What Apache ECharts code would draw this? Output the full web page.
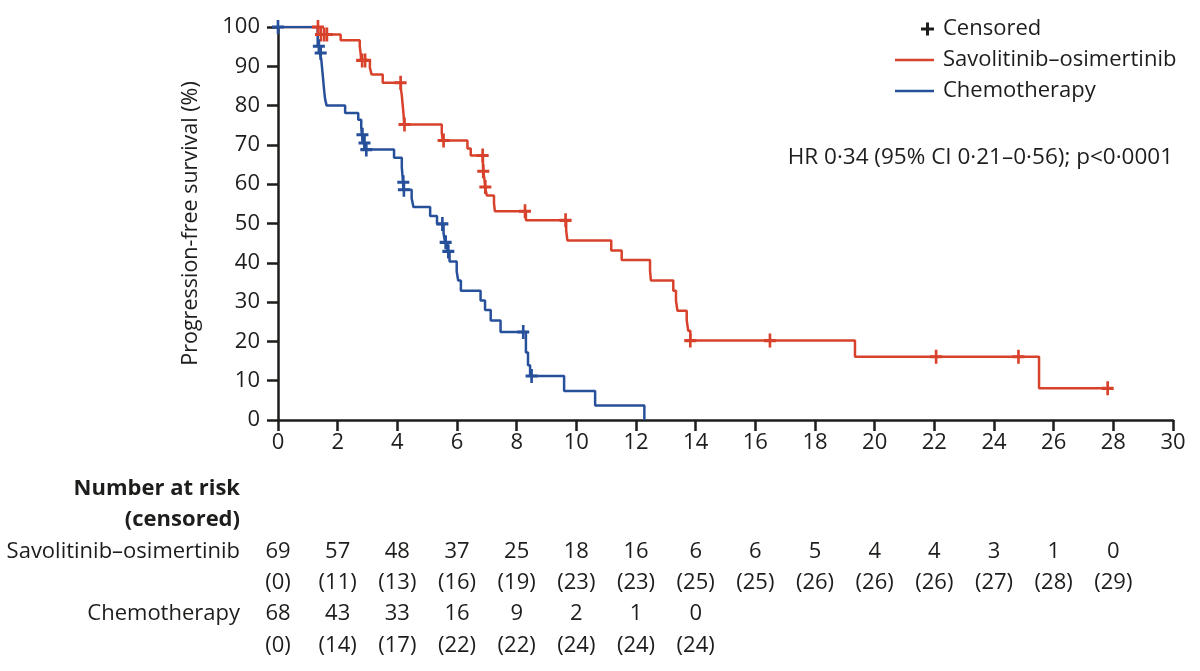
<!DOCTYPE html>
<html>
<head>
<meta charset="utf-8">
<script src="https://cdn.jsdelivr.net/npm/echarts@6/dist/echarts.min.js"></script>
<style>
html,body{margin:0;padding:0;background:#fff;}
#chart{width:1200px;height:671px;}
</style>
</head>
<body>
<div id="chart"></div>
<script>
// ---------- data ----------
const xTicks = [0,2,4,6,8,10,12,14,16,18,20,22,24,26,28,30];
const yTicks = [0,10,20,30,40,50,60,70,80,90,100];

const savoName = 'Savolitinib–osimertinib';
const chemoName = 'Chemotherapy';

// Kaplan–Meier steps: [time (months), survival (%) from that time on]
const savoSteps = [[0,100],[1.35,98.1],[2.10,96.6],[2.74,95.1],[2.77,93.3],[2.79,91.5],[3.08,89.6],[3.14,87.9],[3.51,85.8],
  [4.12,84.2],[4.15,82.6],[4.17,80.9],[4.19,79.3],[4.21,77.6],[4.23,75.2],[5.49,73.1],[5.52,71.1],[6.35,69.1],[6.46,67.3],
  [6.87,65.3],[6.88,63.3],[6.92,61.3],[6.94,59.3],[7.00,57.1],[7.24,55.1],[7.27,53.1],[8.31,50.8],[9.66,48.2],[9.70,45.7],
  [11.17,43.1],[11.52,40.7],[12.47,38.0],[12.50,35.5],[13.25,32.9],[13.34,30.4],[13.39,27.8],[13.70,25.4],[13.75,22.7],
  [13.82,20.2],[19.34,16.1],[25.51,8.05],[27.81,8.05]];
const savoCensored = [[1.34,100],[1.44,98.1],[1.55,98.1],[1.64,98.1],[2.82,91.5],[2.92,91.5],[4.11,85.8],[4.24,75.2],
  [5.55,71.1],[6.86,67.3],[6.88,63.3],[6.95,59.3],[8.28,53.1],[9.64,50.8],[13.82,20.2],[16.49,20.2],[22.06,16.1],
  [24.82,16.1],[27.81,8.05]];

const chemoSteps = [[0,100],[1.33,95.1],[1.40,93.4],[1.45,91.8],[1.47,90.2],[1.49,88.5],[1.51,86.9],[1.53,85.2],[1.55,83.6],
  [1.58,81.6],[1.63,80.0],[2.25,78.1],[2.69,76.4],[2.79,74.5],[2.81,72.6],[2.87,70.5],[2.93,68.8],[3.89,66.7],[4.15,64.3],
  [4.17,62.4],[4.19,60.5],[4.21,58.6],[4.48,56.4],[4.54,54.2],[5.10,51.9],[5.33,49.9],[5.55,47.5],[5.60,45.2],[5.68,42.9],
  [5.75,40.3],[5.99,37.8],[6.04,35.5],[6.13,32.9],[6.79,30.4],[6.94,28.0],[7.13,25.3],[7.46,22.4],[8.31,17.2],[8.38,13.9],
  [8.45,11.2],[9.59,7.4],[10.63,3.7],[12.28,0]];
const chemoCensored = [[0,100],[1.37,95.1],[1.43,93.4],[2.83,72.6],[2.90,70.5],[2.96,68.8],[4.20,60.5],[4.22,58.6],
  [5.51,49.9],[5.62,45.2],[5.71,42.9],[8.22,22.4],[8.50,11.2]];

// Number at risk (censored), every 2 months
const riskTimes = [0,2,4,6,8,10,12,14,16,18,20,22,24,26,28];
const savoAtRisk = [69,57,48,37,25,18,16,6,6,5,4,4,3,1,0];
const savoCens   = [0,11,13,16,19,23,23,25,25,26,26,26,27,28,29];
const chemoAtRisk = [68,43,33,16,9,2,1,0];
const chemoCens   = [0,14,17,22,22,24,24,24];

const riskRows = ['Number at risk','(censored)', savoName, 'savoCens', chemoName, 'chemoCens'];

const hrText = 'HR 0·34 (95% CI 0·21–0·56); p<0·0001';

// ---------- styling ----------
const RED = '#d8412b';
const BLUE = '#27509b';
const INK = '#1d1d1b';
const FONT = 'Open Sans';
const FS = 22;
const plusPath = 'path://M3.9,0H6.1V3.9H10V6.1H6.1V10H3.9V6.1H0V3.9H3.9Z';
const legendPlus = 'path://M0,6.5L0.01,6.5L0,6.51Z M31,0H34V5H39V8H34V13H31V8H26V5H31Z';
const legendLine = 'path://M0,0H39V2.6H0Z';

function riskData(vals, row, paren) {
  return vals.map((v, i) => [riskTimes[i], row, paren ? '(' + v + ')' : String(v)]);
}

const riskLabel = {
  show: true, position: 'inside', fontFamily: FONT, fontSize: FS, color: INK,
  textBorderWidth: 0, textBorderColor: 'transparent',
  formatter: p => p.value[2]
};

const chart = echarts.init(document.getElementById('chart'), null, {renderer: 'canvas'});

const option = {
  animation: false,
  backgroundColor: '#fff',
  textStyle: {fontFamily: FONT, color: INK},
  grid: [
    {left: 278, right: 27, top: 27, height: 393, containLabel: false},
    {left: 278, right: 27, top: 473, height: 188, containLabel: false}
  ],
  legend: {
    orient: 'vertical',
    left: 890,
    top: 13,
    itemWidth: 39,
    itemHeight: 13,
    itemGap: 9,
    selectedMode: false,
    textStyle: {fontFamily: FONT, fontSize: FS, color: INK, lineHeight: 22, padding: [0, 0, 0, 4]},
    data: [
      {name: 'Censored', icon: legendPlus, itemStyle: {color: INK, opacity: 1}},
      {name: savoName, icon: legendLine, itemStyle: {color: RED}},
      {name: chemoName, icon: legendLine, itemStyle: {color: BLUE}}
    ]
  },
  graphic: [
    {
      type: 'text', right: 27, top: 146,
      style: {text: hrText, fontFamily: FONT, fontSize: 22.5, fill: INK}
    }
  ],
  xAxis: [
    {
      gridIndex: 0, type: 'value', min: 0, max: 30, interval: 2,
      axisLine: {show: true, onZero: false, lineStyle: {color: INK, width: 2.5}},
      axisTick: {show: true, length: 11, lineStyle: {color: INK, width: 2.5}},
      axisLabel: {fontFamily: FONT, fontSize: FS, color: INK, margin: 12},
      splitLine: {show: false}
    },
    {
      gridIndex: 1, type: 'value', min: 0, max: 30, interval: 2, show: false
    }
  ],
  yAxis: [
    {
      gridIndex: 0, type: 'value', min: 0, max: 100, interval: 10,
      name: 'Progression-free survival (%)',
      nameLocation: 'middle', nameGap: 76,
      nameTextStyle: {fontFamily: FONT, fontSize: 21.5, color: INK},
      axisLine: {show: true, lineStyle: {color: INK, width: 2.5}},
      axisTick: {show: true, length: 11, lineStyle: {color: INK, width: 2.5}},
      axisLabel: {fontFamily: FONT, fontSize: FS, color: INK, margin: 18},
      splitLine: {show: false}
    },
    {
      gridIndex: 1, type: 'category', inverse: true, data: riskRows,
      axisLine: {show: false}, axisTick: {show: false}, splitLine: {show: false},
      axisLabel: {
        margin: 38, fontFamily: FONT, fontSize: FS, color: INK, align: 'right',
        formatter: function (v) {
          if (v === 'Number at risk' || v === '(censored)') return '{b|' + v + '}';
          if (v === 'savoCens' || v === 'chemoCens') return '';
          return v;
        },
        rich: {b: {fontFamily: FONT, fontSize: FS, fontWeight: 'bold', color: INK}}
      }
    }
  ],
  series: [
    {
      name: savoName, type: 'line', step: 'end', xAxisIndex: 0, yAxisIndex: 0,
      data: savoSteps, showSymbol: false, symbol: 'none',
      lineStyle: {color: RED, width: 2.5}, itemStyle: {color: RED}, z: 3
    },
    {
      name: chemoName, type: 'line', step: 'end', xAxisIndex: 0, yAxisIndex: 0,
      data: chemoSteps, showSymbol: false, symbol: 'none',
      lineStyle: {color: BLUE, width: 2.5}, itemStyle: {color: BLUE}, z: 3
    },
    {
      name: 'savoCensoredMarks', type: 'scatter', xAxisIndex: 0, yAxisIndex: 0,
      data: savoCensored, symbol: plusPath, symbolSize: [12, 14],
      itemStyle: {color: RED, opacity: 1}, z: 4, silent: true
    },
    {
      name: 'chemoCensoredMarks', type: 'scatter', xAxisIndex: 0, yAxisIndex: 0,
      data: chemoCensored, symbol: plusPath, symbolSize: [12, 14],
      itemStyle: {color: BLUE, opacity: 1}, z: 4, silent: true
    },
    {
      name: 'Censored', type: 'scatter', xAxisIndex: 0, yAxisIndex: 0,
      data: [], symbol: plusPath, itemStyle: {color: INK, opacity: 1}
    },
    {
      name: 'riskSavo', type: 'scatter', xAxisIndex: 1, yAxisIndex: 1,
      data: riskData(savoAtRisk, savoName, false).concat(riskData(savoCens, 'savoCens', true)),
      symbolSize: 0, silent: true, itemStyle: {color: 'transparent', opacity: 1},
      label: riskLabel
    },
    {
      name: 'riskChemo', type: 'scatter', xAxisIndex: 1, yAxisIndex: 1,
      data: riskData(chemoAtRisk, chemoName, false).concat(riskData(chemoCens, 'chemoCens', true)),
      symbolSize: 0, silent: true, itemStyle: {color: 'transparent', opacity: 1},
      label: riskLabel
    }
  ]
};
chart.setOption(option);
</script>
</body>
</html>
